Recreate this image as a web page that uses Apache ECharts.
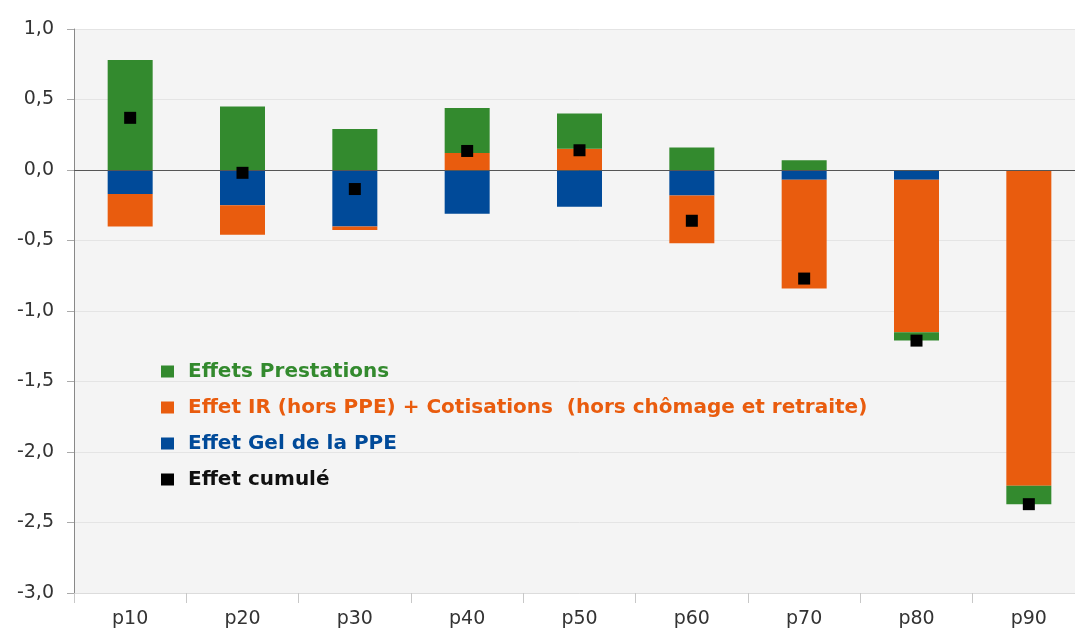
<!DOCTYPE html>
<html>
<head>
<meta charset="utf-8">
<script src="https://cdn.jsdelivr.net/npm/echarts@6/dist/echarts.min.js"></script>
<style>
html,body{margin:0;padding:0;background:#fff;overflow:hidden;}
#c{width:1085px;height:633px;}
</style>
</head>
<body>
<div id="c"></div>
<script>
const categories = ['p10','p20','p30','p40','p50','p60','p70','p80','p90'];
const prestations = [0.78, 0.45, 0.29, 0.32, 0.25, 0.16, 0.07, -0.06, -0.13];
const irCotisations = [-0.23, -0.21, -0.025, 0.12, 0.15, -0.34, -0.77, -1.08, -2.24];
const gelPPE = [-0.17, -0.25, -0.40, -0.31, -0.26, -0.18, -0.07, -0.07, 0];
const cumule = [0.37, -0.02, -0.135, 0.135, 0.14, -0.36, -0.77, -1.21, -2.37];
const yTicks = [-3, -2.5, -2, -1.5, -1, -0.5, 0, 0.5, 1];

const names = {
  pr: 'Effets Prestations',
  ir: 'Effet IR (hors PPE) + Cotisations  (hors chômage et retraite)',
  gel: 'Effet Gel de la PPE',
  cum: 'Effet cumulé'
};
const colors = {pr:'#338a2e', ir:'#e95c0e', gel:'#004a99', cum:'#000000'};
const font = '"DejaVu Sans", sans-serif';

const chart = echarts.init(document.getElementById('c'));
chart.setOption({
  animation: false,
  backgroundColor: '#ffffff',
  textStyle: {fontFamily: font},
  grid: {left: 74, right: 0, top: 29, bottom: 40, show: true, backgroundColor: '#f4f4f4', borderWidth: 0},
  legend: {
    orient: 'vertical', left: 156, top: 356, itemGap: 15, itemWidth: 13, itemHeight: 12,
    icon: 'rect', selectedMode: false,
    textStyle: {fontFamily: font, fontSize: 20, fontWeight: 'bold', lineHeight: 21, padding: [0,0,0,9]},
    data: [
      {name: names.pr, textStyle: {color: colors.pr}},
      {name: names.ir, textStyle: {color: colors.ir}},
      {name: names.gel, textStyle: {color: colors.gel}},
      {name: names.cum, textStyle: {color: '#111'}}
    ]
  },
  xAxis: {
    type: 'category', data: categories,
    axisLine: {onZero: false, lineStyle: {color: '#dcdcdc'}},
    axisTick: {show: true, length: 10, lineStyle: {color: '#c8c8c8'}},
    axisLabel: {color: '#333', fontSize: 19, margin: 17, fontFamily: font}
  },
  yAxis: {
    type: 'value', min: -3, max: 1, interval: 0.5,
    axisLine: {show: true, lineStyle: {color: '#888'}},
    axisTick: {show: true, length: 7, lineStyle: {color: '#aaa'}},
    splitLine: {lineStyle: {color: '#e4e4e4'}},
    axisLabel: {color: '#333', fontSize: 19, margin: 20, fontFamily: font,
      formatter: v => v.toFixed(1).replace('.', ',')}
  },
  series: [
    {name: names.gel, type: 'bar', stack: 's', data: gelPPE, barWidth: 45, itemStyle: {color: colors.gel}},
    {name: names.ir, type: 'bar', stack: 's', data: irCotisations, barWidth: 45, itemStyle: {color: colors.ir}},
    {name: names.pr, type: 'bar', stack: 's', data: prestations, barWidth: 45, itemStyle: {color: colors.pr},
      markLine: {silent: true, symbol: 'none', label: {show: false},
        lineStyle: {color: '#555', width: 1, type: 'solid'}, data: [{yAxis: 0}]}},
    {name: names.cum, type: 'scatter', data: cumule, symbol: 'rect', symbolSize: 12, z: 5,
      itemStyle: {color: colors.cum, opacity: 1}}
  ]
});
</script>
</body>
</html>
